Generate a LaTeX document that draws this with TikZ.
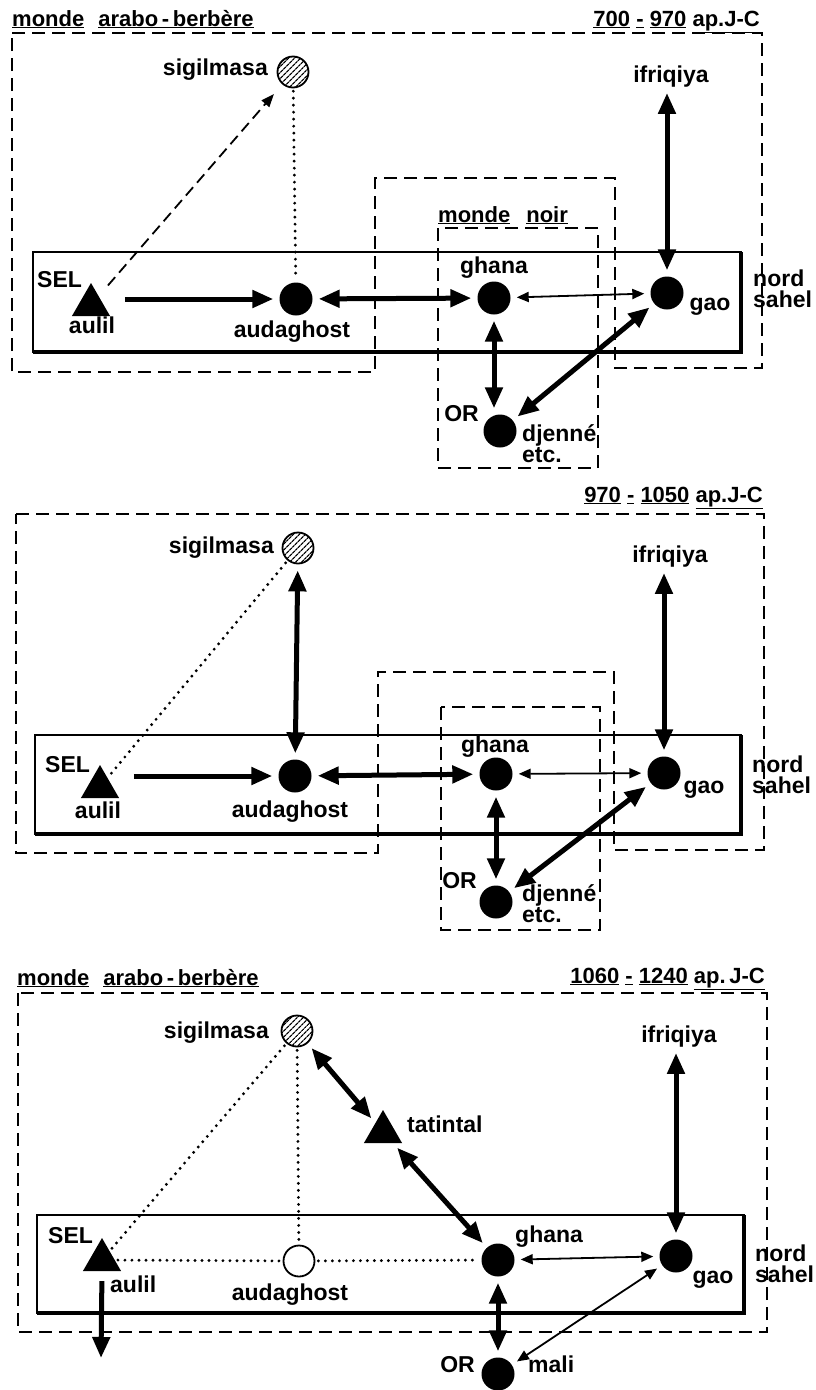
\documentclass[tikz,border=0pt]{standalone}
\usepackage{fontspec}
\setmainfont{Liberation Sans}
\usetikzlibrary{shapes.geometric, arrows.meta, patterns.meta}

\begin{document}
\begin{tikzpicture}[x=1pt, y=-1pt,
    ville/.style={circle, fill=black, minimum size=33pt, inner sep=0pt},
    villevide/.style={circle, draw=black, line width=1.8pt, fill=white, minimum size=31pt, inner sep=0pt},
    villehach/.style={circle, draw=black, line width=1.8pt, minimum size=31pt, inner sep=0pt,
        pattern={Lines[angle=45, distance=4pt, line width=1.3pt]}},
    sel/.style={regular polygon, regular polygon sides=3, fill=black, minimum size=44pt, inner sep=0pt},
    lab/.style={font=\fontsize{23}{21}\selectfont\bfseries, inner sep=0pt},
    titre/.style={font=\fontsize{22}{24}\selectfont\bfseries, inner sep=0pt},
    zone/.style={line width=2.1pt, dash pattern=on 13pt off 7pt},
    cadre/.style={line width=1.8pt},
    cadrefort/.style={line width=3.8pt},
    fort/.style={line width=5pt, {Triangle[length=21pt, width=17pt]}-{Triangle[length=21pt, width=17pt]},
        shorten <=6pt, shorten >=6pt},
    fortsimple/.style={line width=5pt, -{Triangle[length=21pt, width=17pt]}, shorten >=6pt},
    fin/.style={line width=1.8pt, {Triangle[length=12pt, width=10pt]}-{Triangle[length=12pt, width=10pt]},
        shorten <=6pt, shorten >=6pt},
    tirets/.style={line width=1.8pt, dash pattern=on 11pt off 6pt, -{Triangle[length=13pt, width=10pt]},
        shorten <=14pt, shorten >=13pt},
    points/.style={line width=3.2pt, line cap=round, dash pattern=on 0pt off 7pt,
        shorten <=3pt, shorten >=3pt}
]
\useasboundingbox (0,0) rectangle (816,1390);

% 700 - 970 ap.J-C
\node[titre, anchor=base west] (monde1) at (12,26) {\underline{monde}\hspace{14pt}\underline{arabo\,-\,berbère}};
\node[titre, anchor=base east] (date1) at (760,26) {\underline{700}\ \underline{-}\ \underline{970}\ \underline{ap.J-C}};
\draw[zone] (12,33) -- (762,33) -- (762,368) -- (615,368) -- (615,178) -- (375,178) -- (375,372) -- (12,372) -- cycle;
\draw[zone] (438,228) rectangle (598,468);
\node[titre, anchor=base west] (noir1) at (438,222) {\underline{monde}\hspace{16pt}\underline{noir}};
\draw[cadre] (33,252) rectangle (741,352);
\draw[cadrefort] (33,352) -- (741,352) -- (741,252);

\node[villehach] (sigil1) at (293,72) {};
\node[sel] (aulil1) at (91,305) {};
\node[ville] (audag1) at (296,299) {};
\node[ville] (ghana1) at (494,298) {};
\node[ville] (gao1) at (667,293) {};
\node[ville] (djenne1) at (500,431) {};
\node[lab, anchor=base] (ifr1) at (671,82) {ifriqiya};

\node[lab, anchor=base east] (tsigil1) at (268,75) {sigilmasa};
\node[lab, anchor=base west] (tsel1) at (37,287) {SEL};
\node[lab, anchor=base] (taulil1) at (92,333) {aulil};
\node[lab, anchor=base] (taudag1) at (292,337) {audaghost};
\node[lab, anchor=base] (tghana1) at (494,273) {ghana};
\node[lab, anchor=base] (tgao1) at (710,310) {gao};
\node[lab, anchor=base west, align=left] (tsahel1) at (753,307) {nord\\sahel};
\node[lab, anchor=base east] (tor1) at (479,421) {OR};
\node[lab, anchor=base west, align=left] (tdjenne1) at (522,462) {djenné\\etc.};

\draw[fortsimple, shorten <=21pt] (aulil1.east |- audag1) -- (audag1);
\draw[fort] (audag1) -- (ghana1);
\draw[fin] (ghana1) -- (gao1);
\draw[fort] (ifr1.south -| gao1) -- (gao1);
\draw[fort] (ghana1) -- (ghana1 |- djenne1.north);
\draw[fort] (gao1) -- (djenne1);
\draw[tirets] (aulil1) -- (sigil1);
\draw[points] (sigil1) -- (audag1);

% 970 - 1050 ap.J-C
\node[titre, anchor=base east] (date2) at (763,502) {\underline{970}\ \underline{-}\ \underline{1050}\ \underline{ap.J-C}};
\draw[zone] (16,514) -- (764,514) -- (764,850) -- (614,850) -- (614,672) -- (378,672) -- (378,853) -- (16,853) -- cycle;
\draw[zone] (441,707) rectangle (600,930);
\draw[cadre] (35,735) rectangle (741,834);
\draw[cadrefort] (35,834) -- (741,834) -- (741,735);

\node[villehach] (sigil2) at (298,548) {};
\node[sel] (aulil2) at (100,787) {};
\node[ville] (audag2) at (295,776) {};
\node[ville] (ghana2) at (496,774) {};
\node[ville] (gao2) at (664,773) {};
\node[ville] (djenne2) at (496,902) {};
\node[lab, anchor=base] (ifr2) at (670,562) {ifriqiya};

\node[lab, anchor=base east] (tsigil2) at (274,553) {sigilmasa};
\node[lab, anchor=base west] (tsel2) at (45,772) {SEL};
\node[lab, anchor=base] (taulil2) at (98,818) {aulil};
\node[lab, anchor=base] (taudag2) at (290,817) {audaghost};
\node[lab, anchor=base] (tghana2) at (495,752) {ghana};
\node[lab, anchor=base] (tgao2) at (704,793) {gao};
\node[lab, anchor=base west, align=left] (tsahel2) at (752,793) {nord\\sahel};
\node[lab, anchor=base east] (tor2) at (477,888) {OR};
\node[lab, anchor=base west, align=left] (tdjenne2) at (522,922) {djenné\\etc.};

\draw[fortsimple, shorten <=21pt] (aulil2.east |- audag2) -- (audag2);
\draw[fort] (audag2) -- (ghana2);
\draw[fin] (ghana2) -- (gao2);
\draw[fort] (sigil2) -- (audag2);
\draw[fort] (ifr2.south -| gao2) -- (gao2);
\draw[fort] (ghana2) -- (djenne2);
\draw[fort] (gao2) -- (djenne2);
\draw[points] (sigil2) -- (aulil2);

% 1060 - 1240 ap. J-C
\node[titre, anchor=base west] (monde3) at (17,985) {\underline{monde}\hspace{14pt}\underline{arabo\,-\,berbère}};
\node[titre, anchor=base east] (date3) at (765,983) {\underline{1060}\ \underline{-}\ \underline{1240}\ \underline{ap.\,J-C}};
\draw[zone] (18,993) rectangle (767,1332);
\draw[cadre] (37,1215) rectangle (744,1313);
\draw[cadrefort] (37,1313) -- (744,1313) -- (744,1215);

\node[villehach] (sigil3) at (297,1031) {};
\node[sel] (tatin3) at (383,1132) {};
\node[sel] (aulil3) at (102,1260) {};
\node[villevide] (audag3) at (299,1261) {};
\node[ville] (ghana3) at (498,1260) {};
\node[ville] (gao3) at (676,1256) {};
\node[ville] (mali3) at (498,1374) {};
\node[lab, anchor=base] (ifr3) at (679,1042) {ifriqiya};
\coordinate (sud3) at (101,1358);

\node[lab, anchor=base east] (tsigil3) at (269,1038) {sigilmasa};
\node[lab, anchor=base west] (ttatin3) at (407,1132) {tatintal};
\node[lab, anchor=base west] (tsel3) at (48,1243) {SEL};
\node[lab, anchor=base west] (taulil3) at (110,1292) {aulil};
\node[lab, anchor=base] (taudag3) at (290,1300) {audaghost};
\node[lab, anchor=base west] (tghana3) at (515,1242) {ghana};
\node[lab, anchor=base] (tgao3) at (713,1283) {gao};
\node[lab, anchor=base west, align=left] (tsahel3) at (755,1282) {nord\\sahel};
\node[lab, anchor=base east] (tor3) at (475,1372) {OR};
\node[lab, anchor=base west] (tmali3) at (528,1372) {mali};

\draw[fort] (sigil3) -- (tatin3);
\draw[fort] (tatin3) -- (ghana3);
\draw[fort] (ifr3.south -| gao3) -- (gao3);
\draw[fin] (ghana3) -- (gao3);
\draw[fort] (ghana3) -- (mali3);
\draw[fin] (gao3) -- (mali3);
\draw[fortsimple, shorten <=10pt, shorten >=0pt] (aulil3.south) -- (sud3);
\draw[points] (sigil3) -- (aulil3);
\draw[points] (sigil3) -- (audag3);
\draw[points] (aulil3) -- (audag3);
\draw[points] (audag3) -- (ghana3);

\end{tikzpicture}
\end{document}
